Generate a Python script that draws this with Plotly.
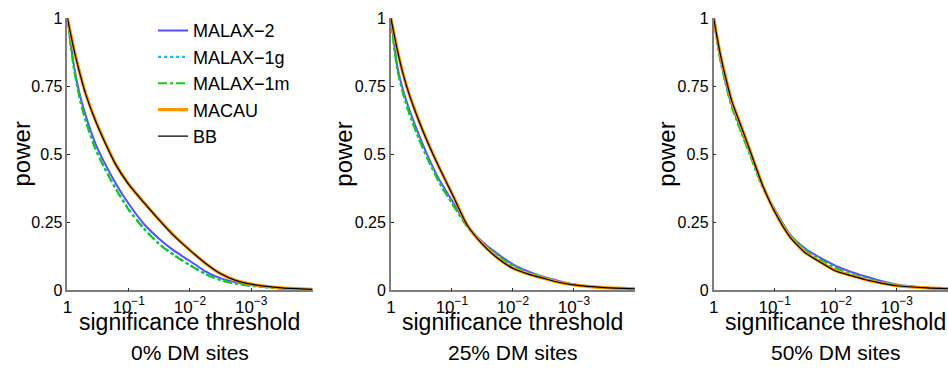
import plotly.graph_objects as go

# significance thresholds (x)
thresholds = [1, 0.79, 0.63, 0.5, 0.35, 0.25, 0.16, 0.1, 0.056, 0.032, 0.018,
              0.01, 0.0056, 0.0032, 0.0018, 0.001, 0.00032, 0.0001]

methods = ["MALAX\u22122", "MALAX\u22121g", "MALAX\u22121m", "MACAU", "BB"]
panel_titles = ["0% DM sites", "25% DM sites", "50% DM sites"]
x_tick_vals = [1, 0.1, 0.01, 0.001]
x_tick_text = ["1", "10<sup>\u22121</sup>", "10<sup>\u22122</sup>", "10<sup>\u22123</sup>"]
y_tick_vals = [0, 0.25, 0.5, 0.75, 1]
y_tick_text = ["0", "0.25", "0.5", "0.75", "1"]

# panel 1: 0% DM sites
p0_malax2 = [1.0, 0.83, 0.72, 0.64, 0.54, 0.47, 0.39, 0.318, 0.243, 0.19, 0.145,
             0.108, 0.07, 0.045, 0.03, 0.02, 0.008, 0.004]
p0_malax1g = [1.0, 0.822, 0.707, 0.622, 0.522, 0.452, 0.372, 0.298, 0.227, 0.172, 0.13,
              0.093, 0.061, 0.039, 0.026, 0.017, 0.007, 0.003]
p0_malax1m = [1.0, 0.82, 0.705, 0.62, 0.52, 0.45, 0.37, 0.296, 0.225, 0.17, 0.128,
              0.092, 0.06, 0.038, 0.025, 0.017, 0.007, 0.003]
p0_macau = [1.0, 0.89, 0.80, 0.72, 0.625, 0.55, 0.46, 0.39, 0.322, 0.26, 0.20,
            0.148, 0.10, 0.062, 0.037, 0.023, 0.009, 0.004]
p0_bb = [1.0, 0.888, 0.798, 0.719, 0.624, 0.548, 0.459, 0.389, 0.321, 0.259, 0.199,
         0.147, 0.10, 0.062, 0.037, 0.023, 0.009, 0.004]

# panel 2: 25% DM sites
p25_malax2 = [1.0, 0.826, 0.735, 0.665, 0.573, 0.495, 0.405, 0.33, 0.238, 0.18, 0.135,
              0.096, 0.07, 0.05, 0.035, 0.022, 0.01, 0.006]
p25_malax1g = [1.0, 0.817, 0.724, 0.652, 0.56, 0.485, 0.397, 0.322, 0.235, 0.176, 0.13,
               0.091, 0.066, 0.048, 0.033, 0.021, 0.01, 0.006]
p25_malax1m = [1.0, 0.815, 0.722, 0.65, 0.558, 0.483, 0.395, 0.32, 0.234, 0.175, 0.129,
               0.09, 0.066, 0.048, 0.033, 0.021, 0.01, 0.006]
p25_macau = [1.0, 0.887, 0.795, 0.72, 0.625, 0.545, 0.45, 0.357, 0.24, 0.172, 0.12,
             0.082, 0.06, 0.045, 0.03, 0.02, 0.01, 0.006]
p25_bb = [1.0, 0.886, 0.794, 0.719, 0.624, 0.544, 0.449, 0.356, 0.239, 0.171, 0.119,
          0.081, 0.06, 0.045, 0.03, 0.02, 0.01, 0.006]

# panel 3: 50% DM sites
p50_malax2 = [1.0, 0.86, 0.76, 0.678, 0.585, 0.5, 0.385, 0.298, 0.205, 0.155, 0.12,
              0.09, 0.068, 0.051, 0.035, 0.022, 0.01, 0.006]
p50_malax1g = [1.0, 0.856, 0.756, 0.673, 0.58, 0.495, 0.382, 0.294, 0.203, 0.15, 0.113,
               0.082, 0.06, 0.045, 0.031, 0.02, 0.009, 0.005]
p50_malax1m = [1.0, 0.855, 0.755, 0.672, 0.579, 0.494, 0.381, 0.293, 0.203, 0.15, 0.113,
               0.082, 0.06, 0.045, 0.031, 0.02, 0.009, 0.005]
p50_macau = [1.0, 0.875, 0.778, 0.693, 0.6, 0.51, 0.39, 0.29, 0.197, 0.14, 0.105,
             0.072, 0.055, 0.039, 0.027, 0.017, 0.009, 0.005]
p50_bb = [1.0, 0.874, 0.777, 0.692, 0.599, 0.509, 0.389, 0.289, 0.196, 0.139, 0.104,
          0.071, 0.054, 0.039, 0.027, 0.017, 0.009, 0.005]

panels = [
    [p0_malax2, p0_malax1g, p0_malax1m, p0_macau, p0_bb],
    [p25_malax2, p25_malax1g, p25_malax1m, p25_macau, p25_bb],
    [p50_malax2, p50_malax1g, p50_malax1m, p50_macau, p50_bb],
]

styles = [
    dict(color="rgb(80,80,255)", width=2, dash="solid"),
    dict(color="rgb(0,200,255)", width=2.2, dash="dot"),
    dict(color="rgb(20,200,20)", width=2.2, dash="dashdot"),
    dict(color="rgb(255,150,0)", width=3.2, dash="solid"),
    dict(color="rgb(0,0,0)", width=1.2, dash="solid"),
]

FONT = "Liberation Sans, Arial, sans-serif"

fig = go.Figure()
for pi, series in enumerate(panels):
    sfx = "" if pi == 0 else str(pi + 1)
    for mi, vals in enumerate(series):
        fig.add_trace(go.Scatter(
            x=thresholds, y=vals, mode="lines", name=methods[mi],
            line=dict(shape="spline", smoothing=0.6, **styles[mi]),
            showlegend=(pi == 0), legendgroup=methods[mi],
            xaxis="x" + sfx, yaxis="y" + sfx,
        ))

x_domains = [[0.0662, 0.3261], [0.4092, 0.668], [0.7515, 1.0]]
x_ranges = [[0, -4], [0, -4], [0, -3.84]]
y_domain = [0.2, 0.9716]
title_centers = [0.1961, 0.5386, 0.8808]
ylabel_x = [0.0175, 0.3592, 0.7017]

axis_common = dict(
    showline=True, linecolor="rgb(125,125,125)", linewidth=1.6,
    ticks="inside", ticklen=3, tickcolor="rgb(40,40,40)", tickwidth=1,
    showgrid=False, zeroline=False, mirror=False,
)

layout = dict(
    width=948, height=370,
    margin=dict(l=0, r=0, t=0, b=0),
    paper_bgcolor="white", plot_bgcolor="white",
    font=dict(family=FONT, color="black"),
    showlegend=True,
    legend=dict(
        x=0.157, y=0.988, xanchor="left", yanchor="top",
        bgcolor="rgba(0,0,0,0)", borderwidth=0,
        font=dict(family=FONT, size=18, color="black"),
        tracegroupgap=0, itemwidth=30,
    ),
)
annotations = []
for pi in range(3):
    sfx = "" if pi == 0 else str(pi + 1)
    layout["xaxis" + sfx] = dict(
        type="log", domain=x_domains[pi], range=x_ranges[pi], anchor="y" + sfx,
        tickvals=x_tick_vals, ticktext=x_tick_text,
        tickfont=dict(family=FONT, size=17, color="black"), **axis_common)
    layout["yaxis" + sfx] = dict(
        domain=y_domain, range=[0, 1], anchor="x" + sfx,
        tickvals=y_tick_vals, ticktext=y_tick_text,
        tickfont=dict(family=FONT, size=16, color="black"), **axis_common)
    annotations.append(dict(
        text="significance threshold", x=title_centers[pi], y=(370 - 329) / 370,
        xref="paper", yref="paper", showarrow=False, xanchor="center", yanchor="middle",
        font=dict(family=FONT, size=23, color="black")))
    annotations.append(dict(
        text=panel_titles[pi], x=title_centers[pi], y=(370 - 361) / 370,
        xref="paper", yref="paper", showarrow=False, xanchor="center", yanchor="middle",
        font=dict(family=FONT, size=21, color="black")))
    annotations.append(dict(
        text="power", x=ylabel_x[pi], y=(370 - 153) / 370, textangle=-90,
        xref="paper", yref="paper", showarrow=False, xanchor="center", yanchor="middle",
        font=dict(family=FONT, size=24, color="black")))
layout["annotations"] = annotations
fig.update_layout(**layout)

page_fix = ("var s=document.documentElement.style,b=document.body.style;"
            "s.margin='0';s.padding='0';s.overflow='hidden';s.height='370px';"
            "b.margin='0';b.padding='0';b.overflow='hidden';b.height='370px';")
fig.write_html("out.html", config={"displayModeBar": False}, post_script=page_fix)
